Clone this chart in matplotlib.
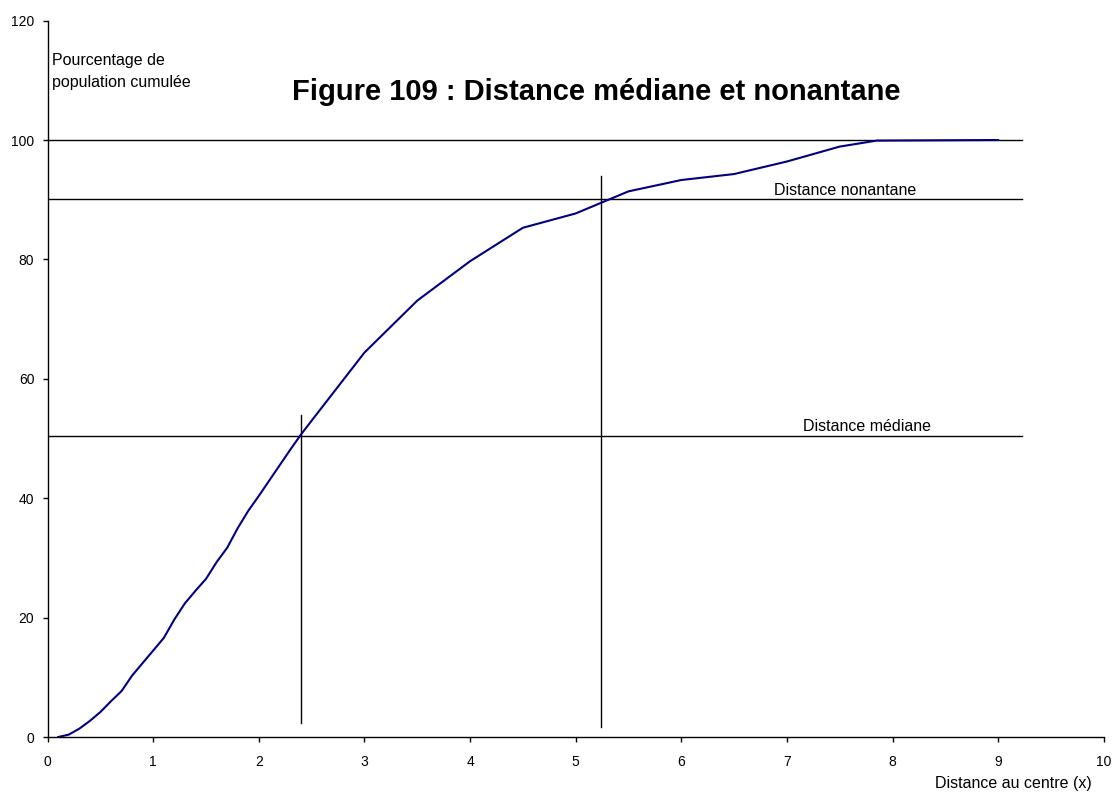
import matplotlib
matplotlib.use("Agg")
import matplotlib.pyplot as plt

plt.rcParams['font.family'] = ['Liberation Sans', 'DejaVu Sans']

# cumulative population share (%) by distance from the centre
distance = [0.1, 0.2, 0.3, 0.4, 0.5, 0.6, 0.7, 0.8, 0.9, 1.0,
            1.1, 1.2, 1.3, 1.4, 1.5, 1.6, 1.7, 1.8, 1.9, 2.0,
            2.1, 2.2, 2.3, 2.4, 2.5, 3.0, 3.5, 4.0, 4.5, 5.0,
            5.5, 6.0, 6.5, 7.0, 7.5, 7.85, 9.0]
cumul = [0.0, 0.4, 1.4, 2.7, 4.2, 6.0, 7.7, 10.3, 12.4, 14.5,
         16.6, 19.7, 22.4, 24.5, 26.5, 29.3, 31.7, 35.0, 37.9, 40.4,
         43.0, 45.6, 48.2, 50.7, 53.0, 64.4, 73.1, 79.7, 85.3, 87.7,
         91.4, 93.3, 94.3, 96.4, 98.9, 99.9, 100.0]

# reference levels and where the curve crosses them
total_level = 100
median_level = 50.4
nonantane_level = 90.1
median_x = 2.40
nonantane_x = 5.24
line_end = 9.23

fig = plt.figure(figsize=(11.16, 7.93), dpi=100)
ax = fig.add_axes([0.0427, 0.0706, 0.9463, 0.9034])

ax.plot(distance, cumul, color='#000080', lw=1.5, zorder=3)

for lvl in (total_level, nonantane_level, median_level):
    ax.plot([0, line_end], [lvl, lvl], color='black', lw=1.0, zorder=2)

ax.plot([median_x, median_x], [2.3, 54.0], color='black', lw=1.0, zorder=2)
ax.plot([nonantane_x, nonantane_x], [1.7, 94.0], color='black', lw=1.0, zorder=2)

ax.text(7.55, 91.6, 'Distance nonantane', ha='center', va='center',
        fontsize=11.5)
ax.text(7.755, 52.0, 'Distance médiane', ha='center', va='center',
        fontsize=11.5)
ax.text(0.04, 113.4, 'Pourcentage de', ha='left', va='center', fontsize=11.5)
ax.text(0.04, 109.7, 'population cumulée', ha='left', va='center',
        fontsize=11.5)

fig.text(0.5345, 0.884, 'Figure 109 : Distance médiane et nonantane',
         ha='center', va='center', fontsize=21, fontweight='bold')
fig.text(0.9077, 0.0126, 'Distance au centre (x)', ha='center', va='center',
         fontsize=11.5)

ax.set_xlim(0, 10)
ax.set_ylim(0, 120)
ax.set_xticks(range(0, 11))
ax.set_yticks(range(0, 121, 20))
ax.tick_params(direction='out', length=3.6, width=1, labelsize=10)
ax.tick_params(axis='x', pad=9.5)
ax.tick_params(axis='y', pad=6)
for side in ('top', 'right'):
    ax.spines[side].set_visible(False)
for side in ('left', 'bottom'):
    ax.spines[side].set_linewidth(1.0)

fig.savefig('out.png', dpi=100)
